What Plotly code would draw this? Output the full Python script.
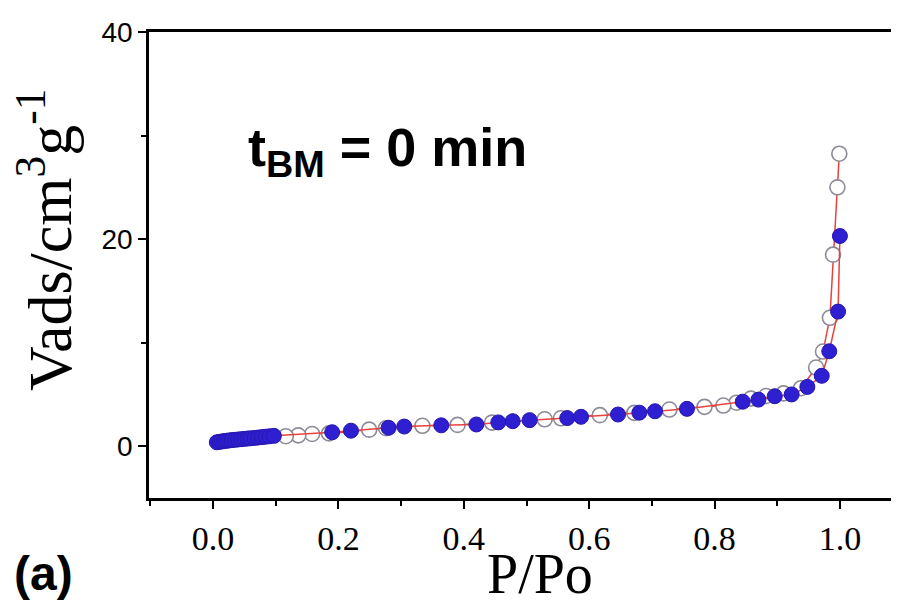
import plotly.graph_objects as go

# Adsorption branch (filled blue circles)
ads_x = [0.006, 0.010, 0.014, 0.018, 0.022, 0.026, 0.030, 0.035, 0.040, 0.045,
         0.050, 0.055, 0.060, 0.066, 0.072, 0.078, 0.084, 0.090, 0.097,
         0.190, 0.220, 0.280, 0.305, 0.364, 0.420, 0.455, 0.478, 0.505, 0.565,
         0.587, 0.646, 0.680, 0.705, 0.756, 0.845, 0.870, 0.896, 0.923, 0.948,
         0.971, 0.983, 0.997, 1.000]
ads_y = [0.38, 0.42, 0.46, 0.50, 0.53, 0.56, 0.59, 0.62, 0.65, 0.68,
         0.71, 0.74, 0.77, 0.80, 0.84, 0.88, 0.92, 0.96, 1.00,
         1.35, 1.50, 1.78, 1.90, 2.02, 2.10, 2.30, 2.42, 2.52, 2.72,
         2.84, 3.06, 3.24, 3.38, 3.61, 4.30, 4.50, 4.83, 5.00, 5.73,
         6.80, 9.17, 13.0, 20.3]

# Desorption branch (open circles)
des_x = [0.999, 0.996, 0.989, 0.984, 0.973, 0.962, 0.938, 0.910, 0.882, 0.858,
         0.835, 0.814, 0.784, 0.728,
         0.672, 0.617, 0.555, 0.529, 0.445, 0.390, 0.334, 0.276, 0.249, 0.185,
         0.158, 0.136, 0.116]
des_y = [28.25, 25.0, 18.5, 12.4, 9.14, 7.6, 5.6, 5.1, 4.85, 4.6,
         4.20, 3.93, 3.80, 3.54,
         3.22, 3.00, 2.70, 2.60, 2.28, 2.06, 1.97, 1.74, 1.60, 1.24,
         1.18, 1.05, 0.97]

x_ticks = [0.0, 0.2, 0.4, 0.6, 0.8, 1.0]
x_tick_labels = ["0.0", "0.2", "0.4", "0.6", "0.8", "1.0"]
y_ticks = [0, 20, 40]
y_tick_labels = ["0", "20", "40"]

# page offset of the figure (browser body margin)
OFF = 8
W, H = 899, 606 - OFF
ML, MR, MT, MB = 141, 0, 24, 108
PL = OFF + ML
PT = OFF + MT
PW = W - ML - MR
PH = H - MT - MB


def px(xp):
    return (xp - PL) / PW


def py(yp):
    return (PT + PH - yp) / PH


fig = go.Figure()
line_color = "#e6433d"
fig.add_trace(go.Scatter(
    x=des_x, y=des_y, mode="lines+markers",
    line=dict(color=line_color, width=1.5),
    marker=dict(symbol="circle", size=15, color="white",
                line=dict(color="#8c8c98", width=1.6)),
    showlegend=False))
fig.add_trace(go.Scatter(
    x=ads_x, y=ads_y, mode="lines+markers",
    line=dict(color=line_color, width=1.5),
    marker=dict(symbol="circle", size=15, color="#2e1fd0",
                line=dict(color="#2616b0", width=1)),
    showlegend=False))

serif = "Liberation Serif, Times New Roman, serif"
sans = "Liberation Sans, Arial, sans-serif"

fig.update_layout(
    width=W, height=H,
    margin=dict(l=ML, r=MR, t=MT, b=MB),
    paper_bgcolor="white", plot_bgcolor="white",
    xaxis=dict(range=[-0.1022, 1.107], tickvals=x_ticks, ticktext=x_tick_labels,
               ticks="outside", ticklen=8, tickwidth=2, tickcolor="black",
               minor=dict(dtick=0.1, tick0=0, ticks="outside", ticklen=5,
                          tickwidth=2, tickcolor="black"),
               showline=True, linecolor="black", linewidth=2.5, mirror=True,
               showgrid=False, zeroline=False, automargin=False,
               tickfont=dict(family=serif, size=34, color="black")),
    yaxis=dict(range=[-5, 40], tickvals=y_ticks, ticktext=y_tick_labels,
               ticks="outside", ticklen=8, tickwidth=2, tickcolor="black",
               minor=dict(tickvals=[10, 30], ticks="outside", ticklen=5,
                          tickwidth=2, tickcolor="black"),
               showline=True, linecolor="black", linewidth=2.5,
               showgrid=False, zeroline=False, automargin=False,
               tickfont=dict(family=sans, size=28, color="black")),
    annotations=[
        dict(text="t<sub>BM</sub> = 0 min", xref="paper", yref="paper",
             x=px(246), y=py(151), xanchor="left", yanchor="middle",
             showarrow=False, font=dict(family=sans, size=54, color="black", weight="bold")),
        dict(text="(a)", xref="paper", yref="paper",
             x=px(44), y=py(573), xanchor="center", yanchor="middle",
             showarrow=False, font=dict(family=sans, size=48, color="black", weight="bold")),
        dict(text="P/Po", xref="paper", yref="paper",
             x=px(540), y=py(574), xanchor="center", yanchor="middle",
             showarrow=False, font=dict(family=serif, size=56, color="black")),
        dict(text="Vads/cm<sup>3</sup>g<sup>-1</sup>", xref="paper", yref="paper",
             x=px(45), y=py(240), xanchor="center", yanchor="middle",
             textangle=-90,
             showarrow=False, font=dict(family=serif, size=62, color="black")),
    ],
)

fig.write_html("out.html")
